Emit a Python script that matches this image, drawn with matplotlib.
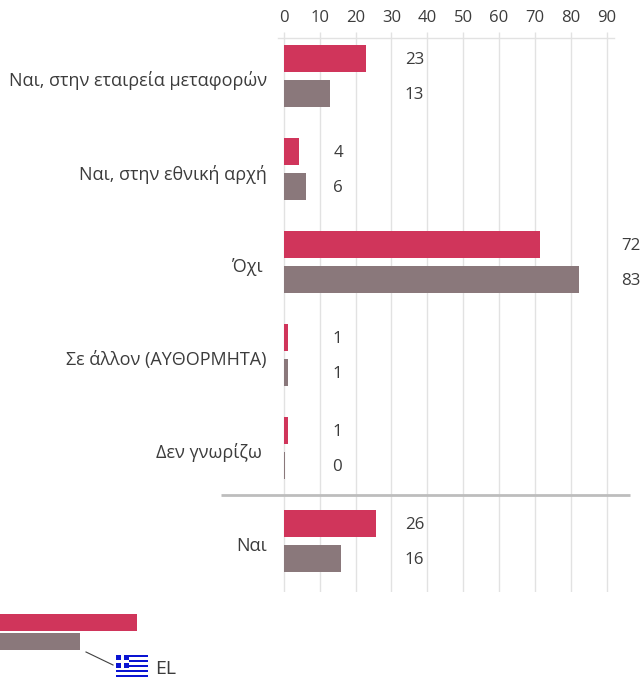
import matplotlib
matplotlib.use("Agg")
import matplotlib.pyplot as plt
from matplotlib.patches import Rectangle

plt.rcParams["font.family"] = ["Open Sans", "DejaVu Sans"]

# --------------------------
# Data
# --------------------------
categories = [
    "Ναι, στην εταιρεία μεταφορών",
    "Ναι, στην εθνική αρχή",
    "Όχι ",
    "Σε άλλον (ΑΥΘΟΡΜΗΤΑ)",
    "Δεν γνωρίζω ",
    "Ναι",
]
el_labels = [23, 4, 72, 1, 1, 26]
eu_labels = [13, 6, 83, 1, 0, 16]
# bar lengths as drawn, slightly off the rounded labels
el_values = [22.9, 4.2, 71.4, 1.2, 1.2, 25.7]
eu_values = [12.9, 6.1, 82.3, 1.2, 0.3, 15.9]
xticks = [0, 10, 20, 30, 40, 50, 60, 70, 80, 90]

legend_red = 137
legend_grey = 80

RED = "#d0355b"
GREY = "#8a787b"
TEXT = "#3c3c3c"
W, H = 641, 677

# --------------------------
# Figure, one axes for the chart
# --------------------------
fig = plt.figure(figsize=(W / 100, H / 100), dpi=100)
left, right, top, bottom = 278, 614, 38, 592
ax = fig.add_axes([left / W, 1 - bottom / H, (right - left) / W, (bottom - top) / H])
ax.set_xlim((left - 283.7) / 3.59, (right - 283.7) / 3.59)
ax.set_ylim((bottom - 76) / 93, (top - 76) / 93)

for s in ["left", "right", "bottom"]:
    ax.spines[s].set_visible(False)
ax.spines["top"].set_color("#e2e2e2")
ax.spines["top"].set_linewidth(1)

ax.xaxis.tick_top()
ax.set_xticks(xticks)
ax.set_xticklabels([str(t) for t in xticks])
ax.tick_params(axis="x", length=4.5, width=1, color="#e2e2e2", labelcolor=TEXT, labelsize=12, pad=4.5)
ax.set_yticks([])
ax.grid(axis="x", color="#e2e2e2", linewidth=1)
ax.set_axisbelow(True)

pos = list(range(len(categories)))
off = 17.5 / 93
hgt = 27 / 93
ax.barh([p - off for p in pos], el_values, height=hgt, color=RED)
ax.barh([p + off for p in pos], eu_values, height=hgt, color=GREY)

# value labels sit in a column per group, not at the bar end
label_px = [424, 343, 640, 342, 342, 424]
for i, name in enumerate(categories):
    fig.text(267 / W, 1 - (76 + 93 * i + 5) / H, name, ha="right", va="center", fontsize=13, color=TEXT)
    for lab, y in ((el_labels[i], -off), (eu_labels[i], off)):
        fig.text(label_px[i] / W, 1 - (76 + 93 * i + y * 93 + 1.5) / H, str(lab), ha="right", va="center",
                 fontsize=12.2, color=TEXT)

# --------------------------
# Overlay in pixels: separator, legend, flag
# --------------------------
over = fig.add_axes([0, 0, 1, 1], facecolor="none")
over.set_xlim(0, W)
over.set_ylim(H, 0)
over.axis("off")
over.plot([221, 630], [495, 495], color="#bdbdbd", linewidth=2, solid_capstyle="butt")

over.barh(622.5, legend_red, height=17, color=RED)
over.barh(641.5, legend_grey, height=17, color=GREY)
over.plot([86, 113], [652, 665], color="#404040", linewidth=0.8)

FLAG_BLUE = "#0a14d2"
over.add_patch(Rectangle((116, 655), 32, 22, facecolor="white", edgecolor="none"))
for k in range(0, 9, 2):
    over.add_patch(Rectangle((116, 655 + k * 22 / 9), 32, 22 / 9, facecolor=FLAG_BLUE, edgecolor="none"))
over.add_patch(Rectangle((116, 655), 12.5, 12.5, facecolor=FLAG_BLUE, edgecolor="none"))
over.add_patch(Rectangle((120.7, 655), 3, 12.5, facecolor="white", edgecolor="none"))
over.add_patch(Rectangle((116, 659.8), 12.5, 3, facecolor="white", edgecolor="none"))
over.text(155, 669.5, "EL", ha="left", va="center", fontsize=14, color=TEXT)

fig.savefig("out.png", dpi=100)
